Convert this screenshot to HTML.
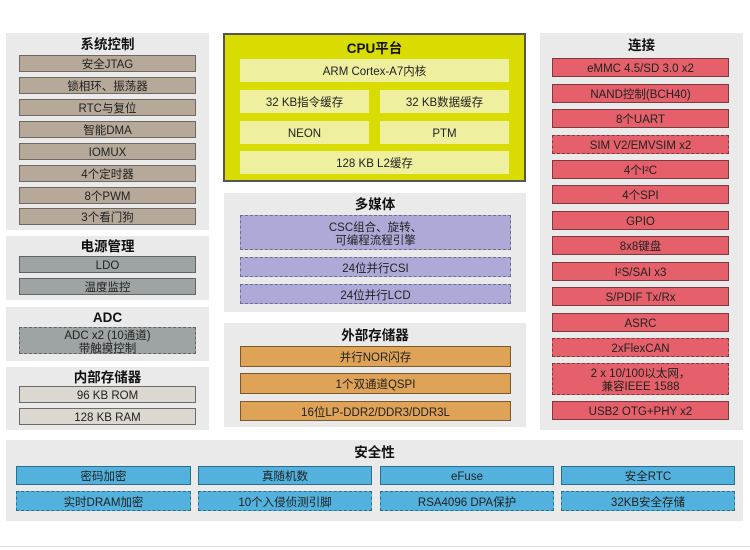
<!DOCTYPE html>
<html><head><meta charset="utf-8"><style>
body{margin:0;width:750px;height:550px;background:#fff;position:relative;overflow:hidden;font-family:"Liberation Sans","Noto Sans CJK SC",sans-serif;}
.p{position:absolute;background:#ebeaea;}
.t{position:absolute;left:0;right:0;text-align:center;font-weight:bold;font-size:13.5px;color:#111;line-height:14px;}
.b{position:absolute;box-sizing:border-box;border:1px solid #555;display:flex;align-items:center;justify-content:center;text-align:center;font-size:11.5px;color:#222;line-height:13px;padding-top:4px;}
.d{border-style:dashed;}
.s{background:#b6a999;border-color:#6e6863;}
.pw{background:#9ea3a3;border-color:#5f6464;}
.m{background:#dcd7d0;border-color:#6e6a66;}
.c{background:#eef0a0;border:none;}
.mm{background:#aeaad8;border-color:#6f6c8e;}
.e{background:#dea356;border-color:#7a5a2c;}
.r{background:#e5606a;border-color:#7d3a3e;}
.x{background:#52b1dd;border-color:#2d6d8c;}
</style></head><body>
<!-- left -->
<div class="p" style="left:6px;top:33px;width:203px;height:197px"><div class="t" style="top:5px">系统控制</div></div>
<div class="b s" style="left:19px;top:55px;width:177px;height:17px">安全JTAG</div>
<div class="b s" style="left:19px;top:77px;width:177px;height:17px">锁相环、振荡器</div>
<div class="b s" style="left:19px;top:99px;width:177px;height:17px">RTC与复位</div>
<div class="b s" style="left:19px;top:121px;width:177px;height:17px">智能DMA</div>
<div class="b s" style="left:19px;top:143px;width:177px;height:17px">IOMUX</div>
<div class="b s" style="left:19px;top:165px;width:177px;height:17px">4个定时器</div>
<div class="b s" style="left:19px;top:187px;width:177px;height:17px">8个PWM</div>
<div class="b s" style="left:19px;top:208px;width:177px;height:17px">3个看门狗</div>

<div class="p" style="left:6px;top:236px;width:203px;height:64px"><div class="t" style="top:4px">电源管理</div></div>
<div class="b pw" style="left:19px;top:256px;width:177px;height:17px">LDO</div>
<div class="b pw" style="left:19px;top:278px;width:177px;height:17px">温度监控</div>

<div class="p" style="left:6px;top:307px;width:203px;height:54px"><div class="t" style="top:4px">ADC</div></div>
<div class="b pw d" style="left:19px;top:327px;width:177px;height:27px">ADC x2 (10通道)<br>带触摸控制</div>

<div class="p" style="left:6px;top:367px;width:203px;height:63px"><div class="t" style="top:4px">内部存储器</div></div>
<div class="b m" style="left:19px;top:386px;width:177px;height:17px">96 KB ROM</div>
<div class="b m" style="left:19px;top:408px;width:177px;height:17px">128 KB RAM</div>

<!-- CPU -->
<div class="p" style="left:223px;top:33px;width:303px;height:149px;background:#d9dc00;box-sizing:border-box;border:2px solid #555"><div class="t" style="top:7px">CPU平台</div></div>
<div class="b c" style="left:240px;top:59px;width:269px;height:23px">ARM Cortex-A7内核</div>
<div class="b c" style="left:240px;top:90px;width:129px;height:23px">32 KB指令缓存</div>
<div class="b c" style="left:380px;top:90px;width:129px;height:23px">32 KB数据缓存</div>
<div class="b c" style="left:240px;top:121px;width:129px;height:23px">NEON</div>
<div class="b c" style="left:380px;top:121px;width:129px;height:23px">PTM</div>
<div class="b c" style="left:240px;top:151px;width:269px;height:23px">128 KB L2缓存</div>

<div class="p" style="left:224px;top:193px;width:302px;height:119px"><div class="t" style="top:5px">多媒体</div></div>
<div class="b mm d" style="left:240px;top:215px;width:271px;height:35px">CSC组合、旋转、<br>可编程流程引擎</div>
<div class="b mm d" style="left:240px;top:257px;width:271px;height:20px">24位并行CSI</div>
<div class="b mm d" style="left:240px;top:284px;width:271px;height:20px">24位并行LCD</div>

<div class="p" style="left:224px;top:323px;width:302px;height:104px"><div class="t" style="top:6px">外部存储器</div></div>
<div class="b e" style="left:240px;top:346px;width:271px;height:21px">并行NOR闪存</div>
<div class="b e" style="left:240px;top:373px;width:271px;height:21px">1个双通道QSPI</div>
<div class="b e" style="left:240px;top:401px;width:271px;height:20px">16位LP-DDR2/DDR3/DDR3L</div>

<!-- right -->
<div class="p" style="left:540px;top:33px;width:203px;height:397px"><div class="t" style="top:6px">连接</div></div>
<div class="b r" style="left:552px;top:58px;width:177px;height:19px">eMMC 4.5/SD 3.0 x2</div>
<div class="b r" style="left:552px;top:84px;width:177px;height:19px">NAND控制(BCH40)</div>
<div class="b r" style="left:552px;top:109px;width:177px;height:19px">8个UART</div>
<div class="b r d" style="left:552px;top:135px;width:177px;height:19px">SIM V2/EMVSIM x2</div>
<div class="b r" style="left:552px;top:160px;width:177px;height:19px">4个I²C</div>
<div class="b r" style="left:552px;top:185px;width:177px;height:19px">4个SPI</div>
<div class="b r" style="left:552px;top:211px;width:177px;height:19px">GPIO</div>
<div class="b r" style="left:552px;top:236px;width:177px;height:19px">8x8键盘</div>
<div class="b r" style="left:552px;top:262px;width:177px;height:19px">I²S/SAI x3</div>
<div class="b r" style="left:552px;top:287px;width:177px;height:19px">S/PDIF Tx/Rx</div>
<div class="b r" style="left:552px;top:313px;width:177px;height:19px">ASRC</div>
<div class="b r d" style="left:552px;top:338px;width:177px;height:19px">2xFlexCAN</div>
<div class="b r d" style="left:552px;top:363px;width:177px;height:32px">2 x 10/100以太网，<br>兼容IEEE 1588</div>
<div class="b r" style="left:552px;top:401px;width:177px;height:19px">USB2 OTG+PHY x2</div>

<!-- security -->
<div class="p" style="left:6px;top:440px;width:737px;height:81px"><div class="t" style="top:6px">安全性</div></div>
<div class="b x" style="left:16px;top:466px;width:175px;height:19px">密码加密</div>
<div class="b x" style="left:198px;top:466px;width:174px;height:19px">真随机数</div>
<div class="b x" style="left:380px;top:466px;width:174px;height:19px">eFuse</div>
<div class="b x" style="left:561px;top:466px;width:174px;height:19px">安全RTC</div>
<div class="b x d" style="left:16px;top:491px;width:175px;height:20px">实时DRAM加密</div>
<div class="b x d" style="left:198px;top:491px;width:174px;height:20px">10个入侵侦测引脚</div>
<div class="b x d" style="left:380px;top:491px;width:174px;height:20px">RSA4096 DPA保护</div>
<div class="b x d" style="left:561px;top:491px;width:174px;height:20px">32KB安全存储</div>

<div style="position:absolute;left:0;top:546px;width:750px;height:1px;background:#ddd"></div>
</body></html>
